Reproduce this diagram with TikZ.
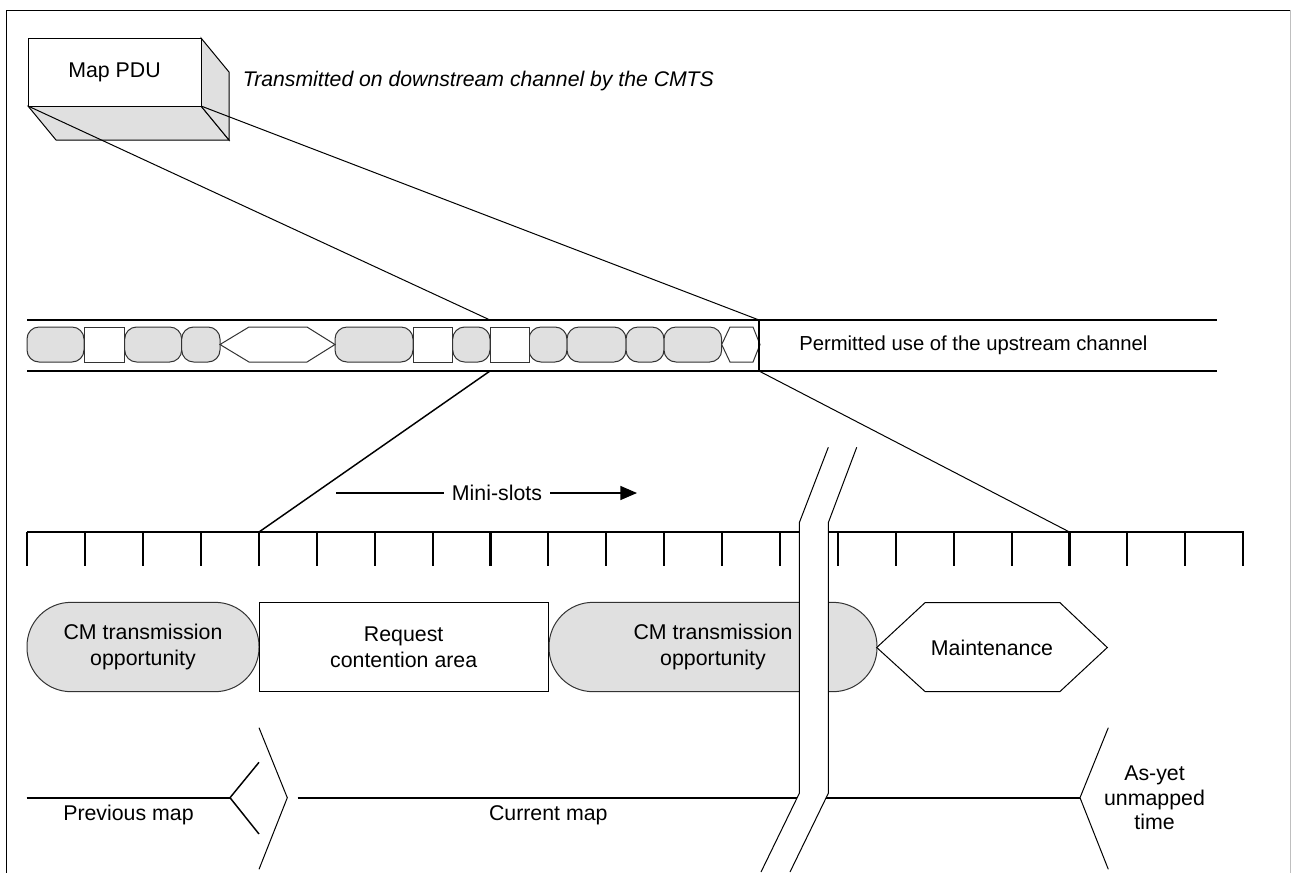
\documentclass[tikz,border=0pt]{standalone}
\usepackage{fontspec}
\setmainfont{Liberation Sans}
\usetikzlibrary{arrows.meta}
\definecolor{shade}{HTML}{E0E0E0}
\definecolor{edgegray}{HTML}{333333}
\begin{document}
\begin{tikzpicture}[x=0.75pt,y=-0.75pt,
  hair/.style={line width=0.75pt, line join=miter},
  bold/.style={line width=1.6pt},
  mid/.style={line width=1.1pt},
  lbl/.style={font=\fontsize{16}{19.5}\selectfont, align=center, inner sep=0pt},
  gseg/.style={fill=shade, draw=edgegray, line width=0.75pt, rounded corners=9pt},
  wseg/.style={fill=white, draw=edgegray, line width=0.75pt},
  cmshape/.style={lbl, fill=shade, draw=edgegray, line width=0.75pt, rounded corners=33pt, minimum height=67pt},
  rcshape/.style={lbl, fill=white, draw=black, line width=0.75pt, minimum height=67pt},
]
\useasboundingbox (0,0) rectangle (1292,872);
% frame
\draw[hair] (6,875) -- (6,10) -- (1290,10);
\draw[line width=0.75pt, gray!50] (1290,10) -- (1290,875);

% Map PDU box
\draw[hair, fill=shade] (28,106) -- (201,106) -- (229,140) -- (56,140) -- cycle;
\draw[hair, fill=shade] (201,38) -- (229,72) -- (229,140) -- (201,106) -- cycle;
\node[lbl, draw=black, line width=0.75pt, fill=white, minimum width=129.75pt, minimum height=51pt] (pdu) at (114.5,72) {Map PDU};
\node[lbl, anchor=west, font=\fontsize{15.9}{19}\selectfont\itshape] (tx) at (242.7,81.5) {Transmitted on downstream channel by the CMTS};

% upstream band
\draw[bold] (27,320) -- (1217,320);
\draw[bold] (27,371) -- (1217,371);
\foreach \a/\b in {27/84, 124.7/181.7, 181.7/220, 335/413, 452.7/490, 529/567, 567/626, 626/664, 664/721.7}
  \draw[gseg] (\a,327) rectangle (\b,362);
\foreach \a/\b in {84/124.7, 413/452.7, 490/529}
  \draw[wseg] (\a,327) rectangle (\b,362);
\draw[wseg] (220,344.5) -- (249,327) -- (307,327) -- (335,344.5) -- (307,362) -- (249,362) -- cycle;
\draw[wseg] (721.7,344.5) -- (730,327) -- (753,327) -- (760,344.5) -- (753,362) -- (730,362) -- cycle;
\draw[bold] (759,320) -- (759,371);
\node[lbl, anchor=west, font=\fontsize{15.2}{19}\selectfont] (perm) at (799,345) {Permitted use of the upstream channel};

% zoom lines
\coordinate (pduBL) at (28,106);
\coordinate (pduBR) at (201,106);
\coordinate (bAt) at (490,320);
\coordinate (bBt) at (759,320);
\coordinate (bAb) at (490,371);
\coordinate (bBb) at (759,371);
\coordinate (rA) at (259,532);
\coordinate (rB) at (1069.5,532);
\draw[hair] (pduBL) -- (bAt);
\draw[hair] (pduBR) -- (bBt);
\draw[mid] (bAb) -- (rA);
\draw[hair] (bBb) -- (rB);

% mini-slots arrow
\node[lbl, inner xsep=6pt] (ms) at (497,493) {Mini-slots};
\coordinate (msL) at (336,493);
\coordinate (msR) at (637,493);
\draw[mid] (msL) -- (ms.west);
\draw[mid, -{Triangle[length=12.5pt, width=10.5pt]}] (ms.east) -- (msR);

% ruler
\draw[bold] (27.3,532) -- (1243.7,532);
\foreach \k in {0,...,21}
  \draw[bold] ({27.3+57.9*\k},532) -- ({27.3+57.9*\k},566);

% allocation shapes
\node[cmshape, minimum width=174pt] (cm1) at (143,647) {CM transmission\\opportunity};
\node[rcshape, minimum width=217pt] (req) at (403.7,647) {Request\\contention area};
\node[cmshape, minimum width=246pt] (cm2) at (713,647) {CM transmission\\opportunity};
\draw[hair, fill=white] (876.7,647.5) -- (925,602.7) -- (1060,602.7) -- (1107.3,647.5) -- (1060,691.5) -- (925,691.5) -- cycle;
\node[lbl] (maint) at (992,647.5) {Maintenance};

% bottom timeline
\coordinate (prevR) at (230,797.7);
\draw[bold] (26.7,797.7) -- (prevR);
\draw[mid] (259,762.3) -- (prevR) -- (259,834);
\coordinate (cvA) at (287.3,797.7);
\draw[hair] (259,727.7) -- (cvA) -- (259,869.3);
\coordinate (curL) at (297.7,797.7);
\coordinate (curR) at (1080,797.7);
\draw[bold] (curL) -- (curR);
\draw[hair] (1108.3,727.7) -- (curR) -- (1108.3,869.3);
\node[lbl] (prev) at (128.5,815) {Previous map};
\node[lbl] (cur) at (548.3,815) {Current map};
\node[lbl, font=\fontsize{16}{18.5}\selectfont] (unm) at (1154.5,798) {As-yet\\unmapped\\time};

% break
\fill[white] (828.3,447.3) -- (856.7,447.3) -- (828.3,522.7) -- (828.3,793.3) -- (790,872) -- (761,872) -- (799.3,793.3) -- (799.3,522.7) -- cycle;
\draw[hair] (828.3,447.3) -- (799.3,522.7) -- (799.3,793.3) -- (761,872);
\draw[hair] (856.7,447.3) -- (828.3,522.7) -- (828.3,793.3) -- (790,872);
\end{tikzpicture}
\end{document}
